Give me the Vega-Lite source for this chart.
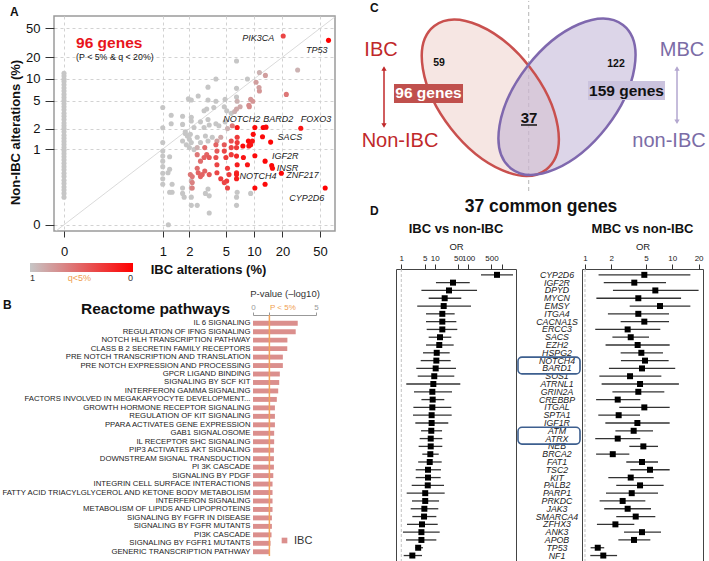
{
  "$schema": "https://vega.github.io/schema/vega-lite/v6.json",
  "background": "white",
  "padding": 0,
  "autosize": {"type": "pad"},
  "config": {
    "font": "Liberation Sans",
    "view": {"stroke": null},
    "title": {"color": "#111"}
  },
  "datasets": {
    "scatter": [
      {"ibc":0,"non":12,"q":1},{"ibc":0,"non":11,"q":1},{"ibc":0,"non":10,"q":1},{"ibc":0,"non":9.2,"q":1},{"ibc":0,"non":8.3,"q":1},{"ibc":0,"non":7.5,"q":1},{"ibc":0,"non":6.8,"q":1},{"ibc":0,"non":6.1,"q":1},{"ibc":0,"non":5.5,"q":1},{"ibc":0,"non":5,"q":1},{"ibc":0,"non":4.5,"q":1},{"ibc":0,"non":4.1,"q":1},{"ibc":0,"non":3.7,"q":1},{"ibc":0,"non":3.3,"q":1},{"ibc":0,"non":3,"q":1},{"ibc":0,"non":2.7,"q":1},{"ibc":0,"non":2.4,"q":1},{"ibc":0,"non":2.2,"q":1},{"ibc":0,"non":2,"q":1},{"ibc":0,"non":1.8,"q":1},{"ibc":0,"non":1.6,"q":1},{"ibc":0,"non":1.45,"q":1},{"ibc":0,"non":1.3,"q":1},{"ibc":0,"non":1.17,"q":1},{"ibc":0,"non":1.05,"q":1},{"ibc":0,"non":0.95,"q":1},{"ibc":0,"non":0.85,"q":1},{"ibc":0,"non":0.76,"q":1},{"ibc":0,"non":0.68,"q":1},{"ibc":0,"non":0.6,"q":1},{"ibc":0,"non":0.53,"q":1},{"ibc":0,"non":0.47,"q":1},{"ibc":0,"non":0.41,"q":1},{"ibc":0,"non":0.36,"q":1},{"ibc":0,"non":0.31,"q":1},{"ibc":0,"non":0.27,"q":1},{"ibc":0,"non":0.23,"q":1},{"ibc":0,"non":0.2,"q":1},{"ibc":0,"non":0.17,"q":1},{"ibc":0,"non":0.14,"q":1},
      {"ibc":1,"non":4.0,"q":1},{"ibc":1,"non":2.06,"q":1},{"ibc":1,"non":1.25,"q":1},{"ibc":1,"non":0.93,"q":1},{"ibc":1,"non":0.78,"q":1},{"ibc":1,"non":0.65,"q":1},{"ibc":1,"non":0.53,"q":1},{"ibc":1,"non":0.41,"q":1},{"ibc":1,"non":0.33,"q":1},{"ibc":1,"non":0.26,"q":1},
      {"ibc":1.16,"non":0,"q":1},{"ibc":6.5,"non":17.7,"q":1},{"ibc":11.4,"non":12.3,"q":0.9},{"ibc":13.2,"non":11.2,"q":0.8},{"ibc":29,"non":13.3,"q":0.9},{"ibc":3.9,"non":10,"q":1},{"ibc":8.5,"non":10,"q":1},{"ibc":10.5,"non":9,"q":0.8},{"ibc":3.2,"non":7.7,"q":1},{"ibc":6.5,"non":7.4,"q":1},{"ibc":11.4,"non":6.8,"q":0.75},{"ibc":11.3,"non":7.6,"q":0.8},{"ibc":22,"non":6.1,"q":0.6},{"ibc":1.95,"non":5.3,"q":1},{"ibc":2.1,"non":5.1,"q":1},{"ibc":2.5,"non":5.8,"q":1},{"ibc":3.2,"non":5.1,"q":1},{"ibc":3.9,"non":4.9,"q":1},{"ibc":4.9,"non":5.2,"q":1},{"ibc":6.5,"non":5.6,"q":1},{"ibc":6.6,"non":4.9,"q":0.9},{"ibc":8.9,"non":4.1,"q":0.7},{"ibc":9.7,"non":4.9,"q":0.75},{"ibc":9.2,"non":5.2,"q":0.75},{"ibc":8.8,"non":4.3,"q":0.7},
      {"ibc":1.25,"non":3.1,"q":1},{"ibc":1.68,"non":3.0,"q":1},{"ibc":2.1,"non":2.9,"q":1},{"ibc":2.9,"non":3.6,"q":1},{"ibc":3.1,"non":3.8,"q":1},{"ibc":3.7,"non":4.0,"q":1},{"ibc":4.8,"non":4.1,"q":1},{"ibc":5.1,"non":3.6,"q":1},{"ibc":5.7,"non":3.3,"q":1},{"ibc":6.2,"non":3.5,"q":0.9},{"ibc":6.5,"non":3.8,"q":0.85},{"ibc":7.1,"non":4.1,"q":0.85},
      {"ibc":1.25,"non":2.35,"q":1},{"ibc":1.68,"non":2.3,"q":1},{"ibc":1.8,"non":1.8,"q":1},{"ibc":2.1,"non":2.57,"q":1},{"ibc":2.25,"non":2.07,"q":1},{"ibc":2.65,"non":2.5,"q":1},{"ibc":2.9,"non":2.07,"q":1},{"ibc":3.2,"non":2.7,"q":1},{"ibc":3.3,"non":2.25,"q":1},{"ibc":3.9,"non":2.35,"q":1},{"ibc":4.2,"non":2.2,"q":1},{"ibc":4.9,"non":2.5,"q":1},{"ibc":5.2,"non":2.0,"q":0.9},{"ibc":5.85,"non":2.2,"q":0.6},
      {"ibc":1.8,"non":1.7,"q":1},{"ibc":1.9,"non":1.56,"q":1},{"ibc":2.05,"non":1.65,"q":1},{"ibc":1.68,"non":1.32,"q":1},{"ibc":1.85,"non":1.16,"q":1},{"ibc":2.0,"non":1.4,"q":1},{"ibc":2.1,"non":1.25,"q":1},{"ibc":2.44,"non":1.5,"q":1},{"ibc":2.65,"non":1.25,"q":1},{"ibc":3.0,"non":1.56,"q":1},{"ibc":3.2,"non":1.32,"q":1},{"ibc":3.56,"non":1.5,"q":1},{"ibc":4.0,"non":1.32,"q":0.8},{"ibc":4.4,"non":1.5,"q":0.85},{"ibc":2.0,"non":1.05,"q":1},{"ibc":2.25,"non":0.98,"q":1},{"ibc":2.44,"non":1.05,"q":0.9},
      {"ibc":1.2,"non":0.76,"q":1},{"ibc":1.15,"non":0.42,"q":1},{"ibc":1.2,"non":0.48,"q":1},{"ibc":1.28,"non":0.18,"q":1},{"ibc":1.28,"non":0.26,"q":1},{"ibc":1.68,"non":0.22,"q":1},{"ibc":1.68,"non":0.17,"q":1},{"ibc":1.75,"non":0.14,"q":1},{"ibc":2.1,"non":0.3,"q":0.9},{"ibc":2.1,"non":0.22,"q":0.9},{"ibc":2.1,"non":0.14,"q":1},{"ibc":2.1,"non":0.085,"q":1},{"ibc":2.44,"non":0.085,"q":1},{"ibc":3.0,"non":0.17,"q":1},{"ibc":3.2,"non":0.21,"q":1},{"ibc":3.3,"non":0.15,"q":1},{"ibc":3.3,"non":0.045,"q":1},{"ibc":6.5,"non":0.14,"q":1},{"ibc":6.5,"non":0.085,"q":1},{"ibc":6.6,"non":0.18,"q":1},{"ibc":9.2,"non":0.17,"q":1},{"ibc":1.2,"non":0.18,"q":1},
      {"ibc":6.6,"non":2.07,"q":0.1},{"ibc":10.2,"non":2.07,"q":0.05},{"ibc":12.5,"non":2.07,"q":0.03},{"ibc":13.4,"non":2.1,"q":0.05},{"ibc":31.3,"non":2.02,"q":0.1},{"ibc":9.8,"non":1.65,"q":0.05},{"ibc":12.3,"non":1.52,"q":0.05},{"ibc":15,"non":1.27,"q":0.02},{"ibc":8.7,"non":1.32,"q":0.05},{"ibc":9.0,"non":1.25,"q":0.05},{"ibc":9.2,"non":1.16,"q":0.1},{"ibc":7.6,"non":1.11,"q":0.05},{"ibc":8.8,"non":1.11,"q":0.1},{"ibc":9.6,"non":1.32,"q":0.1},
      {"ibc":6.6,"non":1.5,"q":0.3},{"ibc":6.6,"non":1.25,"q":0.3},{"ibc":6.5,"non":1.05,"q":0.3},{"ibc":5.7,"non":1.32,"q":0.4},{"ibc":5.7,"non":1.05,"q":0.35},{"ibc":5.7,"non":0.82,"q":0.3},{"ibc":4.8,"non":1.16,"q":0.45},{"ibc":4.8,"non":0.93,"q":0.35},{"ibc":5.0,"non":0.74,"q":0.3},{"ibc":3.9,"non":1.16,"q":0.5},{"ibc":4.0,"non":0.93,"q":0.45},{"ibc":3.9,"non":0.74,"q":0.4},{"ibc":4.0,"non":0.57,"q":0.35},{"ibc":2.95,"non":1.05,"q":0.55},{"ibc":3.1,"non":0.82,"q":0.5},{"ibc":2.9,"non":0.74,"q":0.5},{"ibc":3.3,"non":0.74,"q":0.45},{"ibc":2.44,"non":0.82,"q":0.6},{"ibc":2.65,"non":0.65,"q":0.55},{"ibc":2.44,"non":0.5,"q":0.55},
      {"ibc":6.5,"non":0.78,"q":0.2},{"ibc":6.6,"non":0.57,"q":0.15},{"ibc":6.5,"non":0.42,"q":0.2},{"ibc":7.7,"non":0.74,"q":0.1},{"ibc":8.5,"non":0.57,"q":0.1},{"ibc":10.2,"non":0.79,"q":0.05},{"ibc":13.1,"non":0.65,"q":0.03},{"ibc":15.4,"non":0.55,"q":0.03},{"ibc":15.7,"non":0.5,"q":0.05},{"ibc":19.5,"non":0.41,"q":0.03},{"ibc":13.1,"non":0.26,"q":0.05},{"ibc":10.2,"non":0.22,"q":0.05},{"ibc":56.7,"non":0.22,"q":0},
      {"ibc":5.2,"non":0.5,"q":0.3},{"ibc":5.4,"non":0.39,"q":0.3},{"ibc":5.1,"non":0.3,"q":0.3},{"ibc":4.0,"non":0.42,"q":0.35},{"ibc":4.4,"non":0.33,"q":0.3},{"ibc":2.5,"non":0.42,"q":0.5},{"ibc":2.65,"non":0.36,"q":0.5},{"ibc":3.3,"non":0.39,"q":0.45},{"ibc":2.05,"non":0.39,"q":0.6},{"ibc":2.15,"non":0.28,"q":0.65},{"ibc":6.5,"non":0.39,"q":0.15},{"ibc":6.5,"non":0.33,"q":0.15},{"ibc":4.8,"non":0.28,"q":0.35},{"ibc":5.2,"non":0.22,"q":0.35},{"ibc":2.77,"non":0.39,"q":0.5},{"ibc":2.95,"non":0.45,"q":0.5},{"ibc":2.15,"non":0.36,"q":0.6},{"ibc":2.15,"non":0.22,"q":0.65},
      {"ibc":20.4,"non":39.3,"q":0.35},{"ibc":61.5,"non":34.2,"q":0}
    ],
    "labels": [
      {"gene":"PIK3CA","ibc":20.4,"non":39.3},{"gene":"TP53","ibc":61.5,"non":34.2},{"gene":"FOXO3","ibc":31.3,"non":2.02},{"gene":"BARD2","ibc":12.5,"non":2.07},{"gene":"NOTCH2","ibc":6.6,"non":2.07},{"gene":"SACS","ibc":15,"non":1.27},{"gene":"IGF2R","ibc":13.1,"non":0.65},{"gene":"INSR","ibc":15.4,"non":0.55},{"gene":"ZNF217","ibc":19.5,"non":0.41},{"gene":"NOTCH4","ibc":13.1,"non":0.26},{"gene":"CYP2D6","ibc":56.7,"non":0.22}
    ],
    "pathways": [
      {"pathway":"IL 6 SIGNALING","logp":3.55,"group":"IBC"},
      {"pathway":"REGULATION OF IFNG SIGNALING","logp":3.39,"group":"IBC"},
      {"pathway":"NOTCH HLH TRANSCRIPTION PATHWAY","logp":2.73,"group":"IBC"},
      {"pathway":"CLASS B 2 SECRETIN FAMILY RECEPTORS","logp":2.72,"group":"IBC"},
      {"pathway":"PRE NOTCH TRANSCRIPTION AND TRANSLATION","logp":2.37,"group":"IBC"},
      {"pathway":"PRE NOTCH EXPRESSION AND PROCESSING","logp":2.37,"group":"IBC"},
      {"pathway":"GPCR LIGAND BINDING","logp":2.13,"group":"IBC"},
      {"pathway":"SIGNALING BY SCF KIT","logp":2.08,"group":"IBC"},
      {"pathway":"INTERFERON GAMMA SIGNALING","logp":2.0,"group":"IBC"},
      {"pathway":"FACTORS INVOLVED IN MEGAKARYOCYTE DEVELOPMENT...","logp":1.89,"group":"IBC"},
      {"pathway":"GROWTH HORMONE RECEPTOR SIGNALING","logp":1.74,"group":"IBC"},
      {"pathway":"REGULATION OF KIT SIGNALING","logp":1.74,"group":"IBC"},
      {"pathway":"PPARA ACTIVATES GENE EXPRESSION","logp":1.74,"group":"IBC"},
      {"pathway":"GAB1 SIGNALOSOME","logp":1.68,"group":"IBC"},
      {"pathway":"IL RECEPTOR SHC SIGNALING","logp":1.68,"group":"IBC"},
      {"pathway":"PIP3 ACTIVATES AKT SIGNALING","logp":1.66,"group":"IBC"},
      {"pathway":"DOWNSTREAM SIGNAL TRANSDUCTION","logp":1.66,"group":"IBC"},
      {"pathway":"PI 3K CASCADE","logp":1.66,"group":"IBC"},
      {"pathway":"SIGNALING BY PDGF","logp":1.61,"group":"IBC"},
      {"pathway":"INTEGRIN CELL SURFACE INTERACTIONS","logp":1.55,"group":"IBC"},
      {"pathway":"FATTY ACID TRIACYLGLYCEROL AND KETONE BODY METABOLISM","logp":1.55,"group":"IBC"},
      {"pathway":"INTERFERON SIGNALING","logp":1.55,"group":"IBC"},
      {"pathway":"METABOLISM OF LIPIDS AND LIPOPROTEINS","logp":1.55,"group":"IBC"},
      {"pathway":"SIGNALING BY FGFR IN DISEASE","logp":1.5,"group":"IBC"},
      {"pathway":"SIGNALING BY FGFR MUTANTS","logp":1.5,"group":"IBC"},
      {"pathway":"PI3K CASCADE","logp":1.47,"group":"IBC"},
      {"pathway":"SIGNALING BY FGFR1 MUTANTS","logp":1.39,"group":"IBC"},
      {"pathway":"GENERIC TRANSCRIPTION PATHWAY","logp":1.34,"group":"IBC"}
    ],
    "genes": [
      {"rank":1,"gene":"CYP2D6","oi":733,"li":243,"hi":2208,"om":4.78,"lm":1.43,"hm":16.1},
      {"rank":2,"gene":"IGF2R","oi":35.3,"li":10.9,"hi":112,"om":3.67,"lm":1.64,"hm":8.47},
      {"rank":3,"gene":"DPYD","oi":26.8,"li":4.0,"hi":185,"om":6.39,"lm":2.09,"hm":20},
      {"rank":4,"gene":"MYCN","oi":19.9,"li":6.6,"hi":62.5,"om":4.08,"lm":1.35,"hm":12.6},
      {"rank":5,"gene":"EMSY","oi":18.6,"li":3.0,"hi":122,"om":7.23,"lm":3.25,"hm":16.1},
      {"rank":6,"gene":"ITGA4","oi":16.9,"li":5.5,"hi":39.6,"om":4.08,"lm":1.83,"hm":9.17},
      {"rank":7,"gene":"CACNA1S","oi":16.9,"li":5.5,"hi":44.4,"om":4.78,"lm":2.56,"hm":9.17},
      {"rank":8,"gene":"ERCC3","oi":16.9,"li":5.75,"hi":47.5,"om":3.08,"lm":1.31,"hm":7.29},
      {"rank":9,"gene":"SACS","oi":14.4,"li":6.6,"hi":31.4,"om":3.34,"lm":2.06,"hm":5.41},
      {"rank":10,"gene":"EZH2","oi":13.7,"li":5.5,"hi":37,"om":4.01,"lm":1.72,"hm":9.33},
      {"rank":11,"gene":"HSPG2","oi":11.5,"li":4.47,"hi":28.1,"om":4.42,"lm":2.56,"hm":7.82},
      {"rank":12,"gene":"NOTCH4","oi":11.2,"li":3.81,"hi":30.1,"om":4.87,"lm":2.58,"hm":9.08},
      {"rank":13,"gene":"BARD1","oi":10.7,"li":2.81,"hi":43.4,"om":4.5,"lm":1.88,"hm":10.8},
      {"rank":14,"gene":"SOS1","oi":9.7,"li":3.1,"hi":38.6,"om":3.28,"lm":1.46,"hm":7.49},
      {"rank":15,"gene":"ATRNL1","oi":9.1,"li":1.41,"hi":58.4,"om":4.27,"lm":1.55,"hm":11.9},
      {"rank":16,"gene":"GRIN2A","oi":8.5,"li":2.4,"hi":33,"om":4.08,"lm":2.06,"hm":8.1},
      {"rank":17,"gene":"CREBBP","oi":8.7,"li":4.0,"hi":19.4,"om":2.37,"lm":1.34,"hm":4.3},
      {"rank":18,"gene":"ITGAL","oi":8.5,"li":2.3,"hi":31.4,"om":4.78,"lm":2.47,"hm":9.33},
      {"rank":19,"gene":"SPTA1","oi":8.1,"li":2.24,"hi":32.3,"om":2.43,"lm":1.42,"hm":4.27},
      {"rank":20,"gene":"IGF1R","oi":8.1,"li":2.63,"hi":25.5,"om":3.98,"lm":1.71,"hm":9.33},
      {"rank":21,"gene":"ATM","oi":7.9,"li":3.9,"hi":16.6,"om":3.61,"lm":2.23,"hm":6.01},
      {"rank":22,"gene":"ATRX","oi":7.6,"li":3.55,"hi":16.9,"om":2.37,"lm":1.31,"hm":4.3},
      {"rank":23,"gene":"NEB","oi":7.6,"li":3.3,"hi":16.9,"om":4.66,"lm":3.22,"hm":6.86},
      {"rank":24,"gene":"BRCA2","oi":7.4,"li":4.25,"hi":13.2,"om":2.08,"lm":1.34,"hm":3.22},
      {"rank":25,"gene":"FAT1","oi":7.1,"li":3.2,"hi":16.2,"om":4.5,"lm":2.97,"hm":6.86},
      {"rank":26,"gene":"TSC2","oi":6.3,"li":2.7,"hi":15.4,"om":5.55,"lm":3.3,"hm":9.33},
      {"rank":27,"gene":"KIT","oi":6.3,"li":2.7,"hi":15.1,"om":3.34,"lm":1.85,"hm":6.12},
      {"rank":28,"gene":"PALB2","oi":6.2,"li":2.05,"hi":19,"om":4.27,"lm":2.28,"hm":7.96},
      {"rank":29,"gene":"PARP1","oi":5.2,"li":1.45,"hi":19.9,"om":3.43,"lm":1.74,"hm":6.86},
      {"rank":30,"gene":"PRKDC","oi":5.2,"li":2.09,"hi":13.5,"om":2.7,"lm":1.47,"hm":4.91},
      {"rank":31,"gene":"JAK3","oi":4.9,"li":1.91,"hi":12.8,"om":3.08,"lm":1.66,"hm":5.7},
      {"rank":32,"gene":"SMARCA4","oi":4.8,"li":2.14,"hi":11.2,"om":3.81,"lm":2.28,"hm":6.39},
      {"rank":33,"gene":"ZFHX3","oi":4.17,"li":1.48,"hi":12.3,"om":2.23,"lm":1.37,"hm":3.67},
      {"rank":34,"gene":"ANK3","oi":4.0,"li":1.12,"hi":14.1,"om":4.5,"lm":2.8,"hm":7.43},
      {"rank":35,"gene":"APOB","oi":4.0,"li":1.38,"hi":11.2,"om":3.64,"lm":2.41,"hm":5.6},
      {"rank":36,"gene":"TP53","oi":3.2,"li":2.63,"hi":4.47,"om":1.4,"lm":1.16,"hm":1.66},
      {"rank":37,"gene":"NF1","oi":2.14,"li":1.18,"hi":4.17,"om":1.62,"lm":1.15,"hm":2.33}
    ]
  },
  "spacing": 16,
  "hconcat": [
    {
      "spacing": 4,
      "vconcat": [
        {
          "width": 281, "height": 215,
          "view": {"stroke": "#9a9a9a", "strokeWidth": 1.5},
          "title": {"text": "A", "anchor": "start", "frame": "group", "dx": -44, "offset": -3, "fontSize": 12, "fontWeight": "bold"},
          "encoding": {
            "x": {"field": "ibc", "type": "quantitative", "scale": {"type": "symlog", "constant": 0.1, "domain": [-0.0275, 72], "nice": false, "zero": false},
              "axis": {"values": [0,1,2,5,10,20,50], "format": "d", "title": "IBC alterations (%)", "titleFontSize": 13, "titleFontWeight": "bold", "titleColor": "#111", "titleX": 154, "titlePadding": 5, "labelFontSize": 13, "labelColor": "#111", "tickSize": 6, "tickColor": "#333", "labelPadding": 8, "domain": false, "grid": true, "gridDash": [3,3], "gridColor": "#d2d2d2", "labelFlush": false, "labelOverlap": false}},
            "y": {"field": "non", "type": "quantitative", "scale": {"type": "symlog", "constant": 0.1, "domain": [-0.0217, 74], "nice": false, "zero": false},
              "axis": {"values": [0,1,2,5,10,20,50], "format": "d", "title": "Non-IBC alterations (%)", "titleFontSize": 13, "titleFontWeight": "bold", "titleColor": "#111", "titleY": 116, "titlePadding": 3, "labelFontSize": 13, "labelColor": "#111", "tickSize": 9, "tickColor": "#333", "labelPadding": 5, "domain": false, "grid": true, "gridDash": [3,3], "gridColor": "#d2d2d2", "labelFlush": false, "labelOverlap": false}}
          },
          "layer": [
            {
              "data": {"values": [{"ibc": -0.03, "non": -0.03}, {"ibc": 75, "non": 75}]},
              "mark": {"type": "line", "color": "#d0d0d0", "strokeWidth": 0.8, "clip": true}
            },
            {
              "data": {"name": "scatter"},
              "mark": {"type": "circle", "size": 26, "opacity": 1},
              "encoding": {
                "color": {"field": "q", "type": "quantitative", "scale": {"domain": [1, 0], "range": ["#c6c6c6", "#ff0000"], "interpolate": "rgb"},
                  "legend": {"orient": "none", "legendX": -24, "legendY": 247, "direction": "horizontal", "title": null, "gradientLength": 103, "gradientThickness": 9, "gradientStrokeWidth": 0, "values": [1, 0.52, 0], "labelExpr": "datum.value == 1 ? '1' : datum.value == 0 ? '0' : 'q<5%'", "labelFontSize": 9, "labelColor": {"expr": "datum.value > 0.1 && datum.value < 0.9 ? '#f0a050' : '#333333'"}}}
              }
            },
            {
              "data": {"values": [{"t": "96 genes", "ibc": 0.034, "non": 31.4}]},
              "mark": {"type": "text", "align": "left", "baseline": "middle", "fontSize": 15.5, "fontWeight": "bold", "color": "#e8141c"},
              "encoding": {"text": {"field": "t"}}
            },
            {
              "data": {"values": [{"t": "(P < 5% & q < 20%)", "ibc": 0.034, "non": 20.1}]},
              "mark": {"type": "text", "align": "left", "baseline": "middle", "fontSize": 8.8, "color": "#111"},
              "encoding": {"text": {"field": "t"}}
            },
            {
              "data": {"name": "labels"},
              "transform": [{"filter": {"field": "gene", "oneOf": ["FOXO3", "BARD2"]}}],
              "mark": {"type": "text", "align": "left", "baseline": "middle", "dx": 0, "dy": -9, "fontStyle": "italic", "fontSize": 9, "color": "#222"},
              "encoding": {"text": {"field": "gene"}}
            },
            {
              "data": {"name": "labels"},
              "transform": [{"filter": {"field": "gene", "oneOf": ["NOTCH2"]}}],
              "mark": {"type": "text", "align": "center", "baseline": "middle", "dx": 4.5, "dy": -9, "fontStyle": "italic", "fontSize": 9, "color": "#222"},
              "encoding": {"text": {"field": "gene"}}
            },
            {
              "data": {"name": "labels"},
              "transform": [{"filter": {"field": "gene", "oneOf": ["SACS", "IGF2R"]}}],
              "mark": {"type": "text", "align": "left", "baseline": "middle", "dx": 7, "dy": -5, "fontStyle": "italic", "fontSize": 9, "color": "#222"},
              "encoding": {"text": {"field": "gene"}}
            },
            {
              "data": {"name": "labels"},
              "transform": [{"filter": {"field": "gene", "oneOf": ["INSR", "ZNF217"]}}],
              "mark": {"type": "text", "align": "left", "baseline": "middle", "dx": 5, "dy": 2, "fontStyle": "italic", "fontSize": 9, "color": "#222"},
              "encoding": {"text": {"field": "gene"}}
            },
            {
              "data": {"name": "labels"},
              "transform": [{"filter": {"field": "gene", "oneOf": ["NOTCH4"]}}],
              "mark": {"type": "text", "align": "center", "baseline": "middle", "dx": -7, "dy": -8, "fontStyle": "italic", "fontSize": 9, "color": "#222"},
              "encoding": {"text": {"field": "gene"}}
            },
            {
              "data": {"name": "labels"},
              "transform": [{"filter": {"field": "gene", "oneOf": ["PIK3CA"]}}],
              "mark": {"type": "text", "align": "right", "baseline": "middle", "dx": -9, "dy": 2, "fontStyle": "italic", "fontSize": 9, "color": "#222"},
              "encoding": {"text": {"field": "gene"}}
            },
            {
              "data": {"name": "labels"},
              "transform": [{"filter": {"field": "gene", "oneOf": ["TP53", "CYP2D6"]}}],
              "mark": {"type": "text", "align": "right", "baseline": "middle", "dx": -1, "dy": 10, "fontStyle": "italic", "fontSize": 9, "color": "#222"},
              "encoding": {"text": {"field": "gene"}}
            }
          ]
        },
        {
          "spacing": 0,
          "bounds": "flush",
          "hconcat": [
            {
              "width": 199, "height": 237,
              "title": {"text": "B", "anchor": "start", "frame": "group", "dx": -51, "offset": 7.5, "fontSize": 12, "fontWeight": "bold"},
              "data": {"values": [{}]},
              "mark": {"type": "point", "opacity": 0},
              "encoding": {}
            },
            {
              "width": 63, "height": 237,
              "title": {"text": "Reactome pathways", "anchor": "start", "frame": "group", "dx": -172, "offset": -29, "fontSize": 15.5, "fontWeight": "bold"},
              "encoding": {
                "x": {"field": "logp", "type": "quantitative", "scale": {"domain": [0, 5], "nice": false},
                  "axis": {"orient": "top", "values": [0, 1.301, 5], "labelExpr": "datum.value == 0 ? '0' : datum.value == 5 ? '5' : 'P < 5%'",
                    "labelColor": {"condition": {"test": "datum.value > 1 && datum.value < 2", "value": "#f0a050"}, "value": "#999999"},
                    "labelAlign": {"condition": {"test": "datum.value > 1 && datum.value < 2", "value": "left"}, "value": "center"},
                    "tickColor": "#999", "domainColor": "#999", "tickSize": 3, "labelFontSize": 8, "labelPadding": 1, "offset": 4, "grid": false, "labelFlush": false,
                    "title": "P-value (–log10)", "titleFontSize": 9.5, "titleFontWeight": "normal", "titleColor": "#333", "titlePadding": 5}}
              },
              "layer": [
                {
                  "data": {"name": "pathways"},
                  "mark": {"type": "bar"},
                  "encoding": {
                    "y": {"field": "pathway", "type": "nominal", "sort": null, "scale": {"paddingInner": 0.42, "paddingOuter": 0.21},
                      "axis": {"title": null, "labelFontSize": 7.75, "labelColor": "#222", "ticks": false, "domain": false, "labelPadding": 3, "labelLimit": 400}},
                    "color": {"field": "group", "type": "nominal", "scale": {"range": ["#db8f8d"]},
                      "legend": {"title": null, "orient": "none", "legendX": 225, "legendY": 216, "symbolType": "square", "symbolSize": 32, "symbolStrokeWidth": 0, "labelFontSize": 11, "labelColor": "#333"}}
                  }
                },
                {
                  "data": {"values": [{"logp": 1.301}]},
                  "mark": {"type": "rule", "color": "#f2a45c", "strokeWidth": 1.5, "yOffset": -4}
                }
              ]
            }
          ]
        }
      ]
    },
    {
      "spacing": 6,
      "vconcat": [
        {
          "width": 354, "height": 175,
          "title": {"text": "C", "anchor": "start", "frame": "group", "dx": 18, "offset": -14.5, "fontSize": 12, "fontWeight": "bold"},
          "encoding": {
            "x": {"field": "x", "type": "quantitative", "scale": {"domain": [0, 10], "nice": false, "zero": false}, "axis": null},
            "y": {"field": "y", "type": "quantitative", "scale": {"domain": [0, 5], "nice": false, "zero": false}, "axis": null}
          },
          "layer": [
            {
              "data": {"values": [{"x": 4.992, "y": 0, "y2": 5.43}]},
              "mark": {"type": "rule", "color": "#b5b5b5", "strokeDash": [4, 3], "strokeWidth": 1},
              "encoding": {"y2": {"field": "y2"}}
            },
            {
              "data": {"values": [{"set": "IBC", "x": 3.907, "y": 2.666}]},
              "mark": {"type": "point", "shape": "M 0.958 0 C 0.958 0.2905 0.529 0.526 0 0.526 C -0.529 0.526 -0.958 0.2905 -0.958 0 C -0.958 -0.2905 -0.529 -0.526 0 -0.526 C 0.529 -0.526 0.958 -0.2905 0.958 0 Z", "size": 36100, "angle": 52, "filled": true, "fill": "#edcdc7", "fillOpacity": 0.5, "strokeWidth": 0, "opacity": 1}
            },
            {
              "data": {"values": [{"set": "MBC", "x": 6.073, "y": 2.694}]},
              "mark": {"type": "point", "shape": "M 0.958 0 C 0.958 0.2905 0.529 0.526 0 0.526 C -0.529 0.526 -0.958 0.2905 -0.958 0 C -0.958 -0.2905 -0.529 -0.526 0 -0.526 C 0.529 -0.526 0.958 -0.2905 0.958 0 Z", "size": 36100, "angle": -52, "filled": true, "fill": "#b9abd1", "fillOpacity": 0.5, "strokeWidth": 0, "opacity": 1}
            },
            {
              "data": {"values": [{"set": "IBC", "x": 3.907, "y": 2.666}]},
              "mark": {"type": "point", "shape": "M 0.958 0 C 0.958 0.2905 0.529 0.526 0 0.526 C -0.529 0.526 -0.958 0.2905 -0.958 0 C -0.958 -0.2905 -0.529 -0.526 0 -0.526 C 0.529 -0.526 0.958 -0.2905 0.958 0 Z", "size": 36100, "angle": 52, "filled": false, "stroke": "#c9504e", "strokeWidth": 2.5, "opacity": 1}
            },
            {
              "data": {"values": [{"set": "MBC", "x": 6.073, "y": 2.694}]},
              "mark": {"type": "point", "shape": "M 0.958 0 C 0.958 0.2905 0.529 0.526 0 0.526 C -0.529 0.526 -0.958 0.2905 -0.958 0 C -0.958 -0.2905 -0.529 -0.526 0 -0.526 C 0.529 -0.526 0.958 -0.2905 0.958 0 Z", "size": 36100, "angle": -52, "filled": false, "stroke": "#7f68ae", "strokeWidth": 2.5, "opacity": 1}
            },
            {
              "data": {"values": [{"x": 0.904, "y": 1.85, "y2": 3.52}]},
              "mark": {"type": "rule", "color": "#c0282a", "strokeWidth": 1.5},
              "encoding": {"y2": {"field": "y2"}}
            },
            {
              "data": {"values": [{"x": 0.904, "y": 3.5}]},
              "mark": {"type": "point", "shape": "triangle-up", "size": 28, "filled": true, "color": "#c0282a", "opacity": 1}
            },
            {
              "data": {"values": [{"x": 0.904, "y": 1.87}]},
              "mark": {"type": "point", "shape": "triangle-down", "size": 28, "filled": true, "color": "#c0282a", "opacity": 1}
            },
            {
              "data": {"values": [{"x": 9.181, "y": 1.96, "y2": 3.52}]},
              "mark": {"type": "rule", "color": "#b3a7cf", "strokeWidth": 1.5},
              "encoding": {"y2": {"field": "y2"}}
            },
            {
              "data": {"values": [{"x": 9.181, "y": 3.5}]},
              "mark": {"type": "point", "shape": "triangle-up", "size": 28, "filled": true, "color": "#b3a7cf", "opacity": 1}
            },
            {
              "data": {"values": [{"x": 9.181, "y": 1.98}]},
              "mark": {"type": "point", "shape": "triangle-down", "size": 28, "filled": true, "color": "#b3a7cf", "opacity": 1}
            },
            {
              "data": {"values": [{"x": 1.186, "x2": 3.136, "y": 2.514, "y2": 3.057}]},
              "mark": {"type": "rect", "color": "#c0504d", "opacity": 1},
              "encoding": {"x2": {"field": "x2"}, "y2": {"field": "y2"}}
            },
            {
              "data": {"values": [{"x": 6.667, "x2": 8.842, "y": 2.6, "y2": 3.143}]},
              "mark": {"type": "rect", "color": "#cbc3de", "opacity": 1},
              "encoding": {"x2": {"field": "x2"}, "y2": {"field": "y2"}}
            },
            {
              "data": {"values": [{"t": "96 genes", "x": 2.161, "y": 2.786}]},
              "mark": {"type": "text", "fontSize": 15.5, "fontWeight": "bold", "color": "#ffffff", "baseline": "middle"},
              "encoding": {"text": {"field": "t"}}
            },
            {
              "data": {"values": [{"t": "159 genes", "x": 7.754, "y": 2.871}]},
              "mark": {"type": "text", "fontSize": 15.5, "fontWeight": "bold", "color": "#111111", "baseline": "middle"},
              "encoding": {"text": {"field": "t"}}
            },
            {
              "data": {"values": [{"t": "IBC", "x": 0.819, "y": 4.029}, {"t": "Non-IBC", "x": 1.356, "y": 1.429}]},
              "mark": {"type": "text", "fontSize": 20, "color": "#c0282a", "baseline": "middle"},
              "encoding": {"text": {"field": "t"}}
            },
            {
              "data": {"values": [{"t": "MBC", "x": 9.322, "y": 4.029}, {"t": "non-IBC", "x": 8.955, "y": 1.429}]},
              "mark": {"type": "text", "fontSize": 20, "color": "#7b6ca6", "baseline": "middle"},
              "encoding": {"text": {"field": "t"}}
            },
            {
              "data": {"values": [{"t": "59", "x": 2.458, "y": 3.657}, {"t": "122", "x": 7.458, "y": 3.629}]},
              "mark": {"type": "text", "fontSize": 10.5, "fontWeight": "bold", "color": "#111", "baseline": "middle"},
              "encoding": {"text": {"field": "t"}}
            },
            {
              "data": {"values": [{"t": "37", "x": 5.0, "y": 2.086}]},
              "mark": {"type": "text", "fontSize": 15, "fontWeight": "bold", "color": "#111", "baseline": "middle"},
              "encoding": {"text": {"field": "t"}}
            },
            {
              "data": {"values": [{"x": 4.774, "x2": 5.226, "y": 1.886}]},
              "mark": {"type": "rule", "color": "#111", "strokeWidth": 1.5},
              "encoding": {"x2": {"field": "x2"}}
            }
          ]
        },
        {
          "spacing": 2,
          "bounds": "flush",
          "hconcat": [
            {
              "width": 42, "height": 292,
              "title": {"text": "D", "anchor": "start", "frame": "group", "dx": 18, "offset": 51.5, "fontSize": 12, "fontWeight": "bold"},
              "data": {"values": [{}]},
              "mark": {"type": "point", "opacity": 0},
              "encoding": {}
            },
            {
              "width": 120, "height": 292,
              "view": {"stroke": "#444", "strokeWidth": 1},
              "title": {"text": "IBC vs non-IBC", "fontSize": 13, "fontWeight": "bold", "offset": 4.8},
              "layer": [
                {
                  "data": {"name": "genes"},
                  "mark": {"type": "rule", "color": "#333", "strokeWidth": 1.3},
                  "encoding": {
                    "x": {"field": "li", "type": "quantitative", "scale": {"type": "log", "domain": [0.694, 2717], "nice": false},
                      "axis": {"orient": "top", "values": [1, 5, 10, 50, 100, 500, 1000], "format": "d", "labelExpr": "datum.value == 1000 ? '' : datum.label", "title": "OR", "titleFontSize": 9.5, "titleFontWeight": "normal", "titleColor": "#222", "titlePadding": 3, "labelFontSize": 8, "labelColor": "#222", "tickSize": 5, "tickColor": "#333", "labelPadding": 2, "domain": false, "grid": false, "labelFlush": false, "labelOverlap": false}},
                    "x2": {"field": "hi"},
                    "y": {"field": "rank", "type": "quantitative", "scale": {"domain": [0.25, 37.7], "reverse": true, "nice": false, "zero": false}, "axis": null}
                  }
                },
                {
                  "data": {"values": [{"v": 1}]},
                  "mark": {"type": "rule", "color": "#c4c4c4", "strokeDash": [3, 2], "strokeWidth": 1},
                  "encoding": {"x": {"field": "v", "type": "quantitative", "scale": {"type": "log", "domain": [0.694, 2717], "nice": false}}}
                },
                {
                  "data": {"name": "genes"},
                  "mark": {"type": "square", "size": 36, "color": "#000", "opacity": 1, "filled": true},
                  "encoding": {
                    "x": {"field": "oi", "type": "quantitative", "scale": {"type": "log", "domain": [0.694, 2717], "nice": false}},
                    "y": {"field": "rank", "type": "quantitative", "scale": {"domain": [0.25, 37.7], "reverse": true, "nice": false, "zero": false}, "axis": null}
                  }
                }
              ]
            },
            {
              "width": 62, "height": 292,
              "title": {"text": "37 common genes", "fontSize": 17.5, "fontWeight": "bold", "offset": 53.3, "dx": -8},
              "layer": [
                {
                  "data": {"name": "genes"},
                  "mark": {"type": "text", "fontStyle": "italic", "fontSize": 8.8, "color": "#222", "dx": 8, "baseline": "middle"},
                  "encoding": {
                    "y": {"field": "rank", "type": "quantitative", "scale": {"domain": [0.25, 37.7], "reverse": true, "nice": false, "zero": false}, "axis": null},
                    "text": {"field": "gene"}
                  }
                },
                {
                  "data": {"values": [{"first": 12, "last": 13}, {"first": 21, "last": 22}]},
                  "mark": {"type": "rect", "fill": "#ffffff", "fillOpacity": 0, "stroke": "#3d5f8f", "strokeWidth": 1.6, "cornerRadius": 4, "yOffset": -3.5, "y2Offset": 5.5},
                  "encoding": {
                    "y": {"field": "first", "type": "quantitative", "scale": {"domain": [0.25, 37.7], "reverse": true, "nice": false, "zero": false}, "axis": null},
                    "y2": {"field": "last"}
                  }
                }
              ]
            },
            {
              "width": 121, "height": 292,
              "view": {"stroke": "#444", "strokeWidth": 1},
              "title": {"text": "MBC vs non-IBC", "fontSize": 13, "fontWeight": "bold", "offset": 4.8},
              "layer": [
                {
                  "data": {"name": "genes"},
                  "mark": {"type": "rule", "color": "#333", "strokeWidth": 1.3},
                  "encoding": {
                    "x": {"field": "lm", "type": "quantitative", "scale": {"type": "log", "domain": [0.924, 22.47], "nice": false},
                      "axis": {"orient": "top", "values": [1, 2, 5, 10, 20], "format": "d", "title": "OR", "titleFontSize": 9.5, "titleFontWeight": "normal", "titleColor": "#222", "titlePadding": 3, "labelFontSize": 8, "labelColor": "#222", "tickSize": 5, "tickColor": "#333", "labelPadding": 2, "domain": false, "grid": false, "labelFlush": false, "labelOverlap": false}},
                    "x2": {"field": "hm"},
                    "y": {"field": "rank", "type": "quantitative", "scale": {"domain": [0.25, 37.7], "reverse": true, "nice": false, "zero": false}, "axis": null}
                  }
                },
                {
                  "data": {"values": [{"v": 1}]},
                  "mark": {"type": "rule", "color": "#c4c4c4", "strokeDash": [3, 2], "strokeWidth": 1},
                  "encoding": {"x": {"field": "v", "type": "quantitative", "scale": {"type": "log", "domain": [0.924, 22.47], "nice": false}}}
                },
                {
                  "data": {"name": "genes"},
                  "mark": {"type": "square", "size": 36, "color": "#000", "opacity": 1, "filled": true},
                  "encoding": {
                    "x": {"field": "om", "type": "quantitative", "scale": {"type": "log", "domain": [0.924, 22.47], "nice": false}},
                    "y": {"field": "rank", "type": "quantitative", "scale": {"domain": [0.25, 37.7], "reverse": true, "nice": false, "zero": false}, "axis": null}
                  }
                }
              ]
            }
          ]
        }
      ]
    }
  ]
}
